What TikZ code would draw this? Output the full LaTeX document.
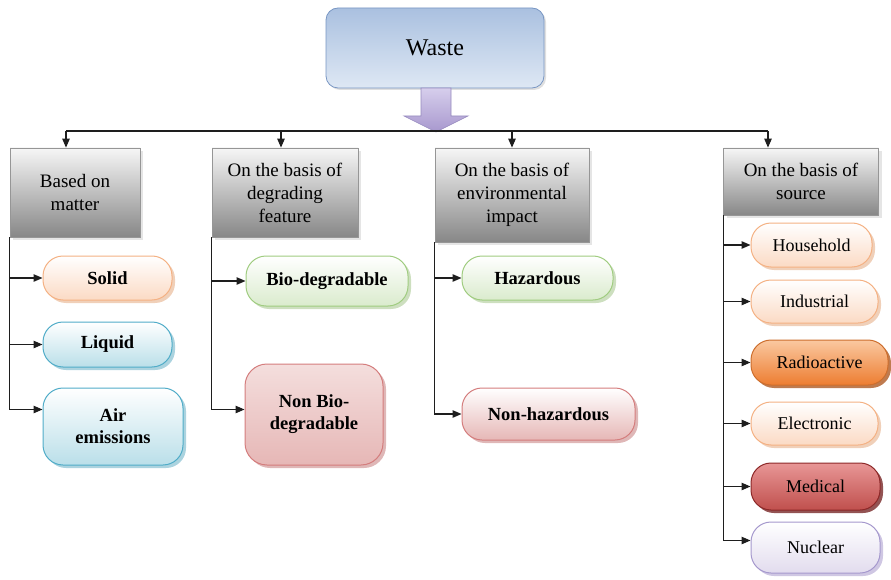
\documentclass[tikz,border=0pt]{standalone}
\usepackage{fontspec}
\setmainfont{Liberation Serif}
\usetikzlibrary{shadows,arrows.meta,calc}

% palette
\definecolor{wasteTop}{RGB}{170,192,224}
\definecolor{wasteBot}{RGB}{222,232,244}
\definecolor{wasteLine}{RGB}{120,150,195}
\definecolor{catTop}{RGB}{246,246,246}
\definecolor{catBot}{RGB}{135,135,135}
\definecolor{catLine}{RGB}{150,150,150}
\definecolor{arrTop}{RGB}{214,206,236}
\definecolor{arrBot}{RGB}{168,152,206}
\definecolor{arrLine}{RGB}{150,138,190}
\definecolor{peachLine}{RGB}{244,177,131}
\definecolor{peachBot}{RGB}{251,218,196}
\definecolor{peachShd}{RGB}{236,196,168}
\definecolor{blueLine}{RGB}{80,172,200}
\definecolor{blueBot}{RGB}{186,223,233}
\definecolor{blueShd}{RGB}{150,200,215}
\definecolor{greenLine}{RGB}{160,204,128}
\definecolor{greenBot}{RGB}{218,235,205}
\definecolor{greenShd}{RGB}{192,215,175}
\definecolor{pinkLine}{RGB}{212,125,125}
\definecolor{pinkTop}{RGB}{244,222,221}
\definecolor{pinkBot}{RGB}{230,183,182}
\definecolor{pinkShd}{RGB}{215,165,165}
\definecolor{radLine}{RGB}{205,110,45}
\definecolor{radTop}{RGB}{250,200,160}
\definecolor{radBot}{RGB}{237,125,49}
\definecolor{radShd}{RGB}{175,90,35}
\definecolor{medLine}{RGB}{140,40,40}
\definecolor{medTop}{RGB}{232,150,150}
\definecolor{medBot}{RGB}{192,80,77}
\definecolor{medShd}{RGB}{120,40,40}
\definecolor{nucLine}{RGB}{165,152,205}
\definecolor{nucBot}{RGB}{226,220,238}
\definecolor{nucShd}{RGB}{195,185,220}
\definecolor{wire}{RGB}{30,30,30}

\begin{document}
\begin{tikzpicture}[x=1pt,y=-1pt,
  wastebox/.style={draw=wasteLine, line width=0.8pt, rounded corners=12pt,
    top color=wasteTop, bottom color=wasteBot,
    minimum width=218pt, minimum height=80pt,
    font=\fontsize{24}{28}\selectfont,
    drop shadow={shadow xshift=2pt, shadow yshift=-2pt, fill=black!25, opacity=0.5}},
  catbox/.style={draw=catLine, line width=0.8pt,
    top color=catTop, bottom color=catBot,
    align=center, inner sep=0pt,
    font=\fontsize{19}{23}\selectfont,
    drop shadow={shadow xshift=3pt, shadow yshift=-3pt, fill=black!20, opacity=0.5}},
  pill/.style n args={4}{draw=#1, line width=1pt, rounded corners=20pt,
    top color=#2, bottom color=#3, align=center, inner sep=0pt,
    drop shadow={shadow xshift=3pt, shadow yshift=-3pt, fill=#4, opacity=0.8}},
  boldtext/.style={font=\fontsize{18.5}{22}\selectfont\bfseries},
  plaintext/.style={font=\fontsize{18}{22}\selectfont},
  link/.style={draw=wire, line width=1.1pt,
    -{Triangle[length=9pt,width=7.5pt]}},
  busline/.style={draw=wire, line width=1.1pt}
]
\useasboundingbox (0,0) rectangle (891,580);

% root
\node[wastebox] (waste) at (435,48) {Waste};

% block arrow under the root
\path[draw=arrLine, line width=0.6pt, top color=arrTop, bottom color=arrBot]
  (421,88) -- (451,88) -- (451,116) -- (468,116) -- (436,132)
  -- (404,116) -- (421,116) -- cycle;

% category boxes
\node[catbox, minimum width=130pt, minimum height=89pt] (g1) at (75,192.5)
  {Based on\\matter};
\node[catbox, minimum width=146pt, minimum height=89pt] (g2) at (285,192.5)
  {On the basis of\\degrading\\feature};
\node[catbox, minimum width=154pt, minimum height=94pt] (g3) at (512,195)
  {On the basis of\\environmental\\impact};
\node[catbox, minimum width=155pt, minimum height=67pt] (g4) at (801,181.5)
  {On the basis of\\source};

% bus
\coordinate (b1) at (66,131);
\coordinate (b2) at (281,131);
\coordinate (b3) at (512,131);
\coordinate (b4) at (768,131);
\draw[busline] (b1) -- (b4);
\draw[link] (b1) -- (b1 |- g1.north);
\draw[link] (b2) -- (b2 |- g2.north);
\draw[link] (b3) -- (b3 |- g3.north);
\draw[link] (b4) -- (b4 |- g4.north);

% based on matter
\node[pill={peachLine}{white}{peachBot}{peachShd}, boldtext,
  minimum width=129pt, minimum height=44pt] (solid) at (107.5,278) {Solid};
\node[pill={blueLine}{white}{blueBot}{blueShd}, boldtext,
  minimum width=129pt, minimum height=45pt] (liquid) at (107.5,344.5) {Liquid};
\node[pill={blueLine}{white}{blueBot}{blueShd}, boldtext,
  minimum width=140pt, minimum height=77pt] (air) at (113,426.5) {Air\\emissions};

% degrading feature
\node[pill={greenLine}{white}{greenBot}{greenShd}, boldtext,
  minimum width=162pt, minimum height=50pt] (bio) at (327,281) {Bio-degradable};
\node[pill={pinkLine}{pinkTop}{pinkBot}{pinkShd}, boldtext, rounded corners=22pt,
  minimum width=138pt, minimum height=101pt] (nonbio) at (314,414.5)
  {Non Bio-\\degradable};

% environmental impact
\node[pill={greenLine}{white}{greenBot}{greenShd}, boldtext,
  minimum width=151pt, minimum height=44pt] (haz) at (537.5,278) {Hazardous};
\node[pill={pinkLine}{white}{pinkBot}{pinkShd}, boldtext,
  minimum width=173pt, minimum height=52pt] (nonhaz) at (548.5,414) {Non-hazardous};

% source
\node[pill={peachLine}{white}{peachBot}{peachShd}, plaintext,
  minimum width=121pt, minimum height=44pt] (house) at (811.5,245) {Household};
\node[pill={peachLine}{white}{peachBot}{peachShd}, plaintext,
  minimum width=127pt, minimum height=43pt] (indus) at (814.5,301.5) {Industrial};
\node[pill={radLine}{radTop}{radBot}{radShd}, plaintext,
  minimum width=137pt, minimum height=45pt] (radio) at (819.5,362.5) {Radioactive};
\node[pill={peachLine}{white}{peachBot}{peachShd}, plaintext,
  minimum width=127pt, minimum height=43pt] (elec) at (814.5,423.5) {Electronic};
\node[pill={medLine}{medTop}{medBot}{medShd}, plaintext,
  minimum width=129pt, minimum height=47pt] (med) at (815.5,486.5) {Medical};
\node[pill={nucLine}{white}{nucBot}{nucShd}, plaintext,
  minimum width=129pt, minimum height=51pt] (nuc) at (815.5,547.5) {Nuclear};

% branch connectors
\draw[link] (g1.south west) |- (solid.west);
\draw[link] (g1.south west) |- (liquid.west);
\draw[link] (g1.south west) |- ([yshift=17pt]air.west);

\draw[link] (g2.south west) |- (bio.west);
\draw[link] (g2.south west) |- ([yshift=5pt]nonbio.west);

\draw[link] (g3.south west) |- (haz.west);
\draw[link] (g3.south west) |- (nonhaz.west);

\draw[link] (g4.south west) |- (house.west);
\draw[link] (g4.south west) |- (indus.west);
\draw[link] (g4.south west) |- (radio.west);
\draw[link] (g4.south west) |- (elec.west);
\draw[link] (g4.south west) |- (med.west);
\draw[link] (g4.south west) |- ([yshift=7pt]nuc.west);
\end{tikzpicture}
\end{document}
